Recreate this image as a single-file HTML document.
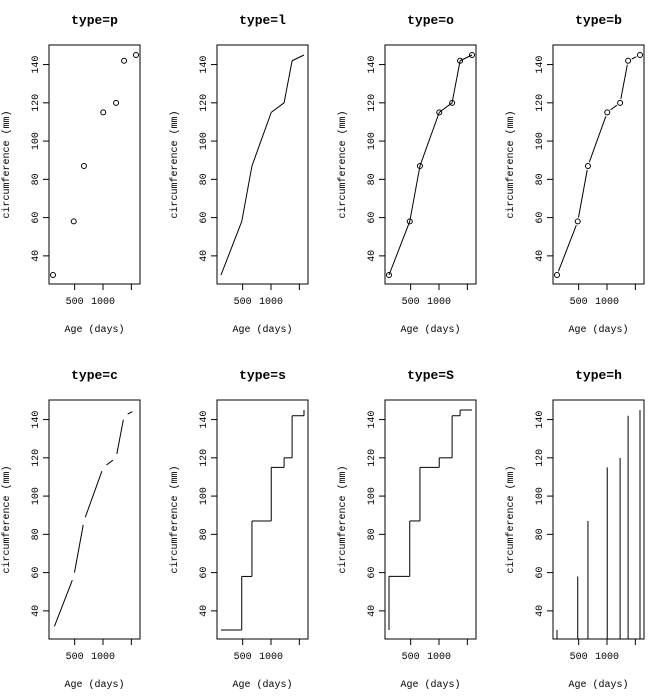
<!DOCTYPE html>
<html><head><meta charset="utf-8"><style>
body{margin:0;background:#fff}
svg text{font-family:"Liberation Mono","DejaVu Sans Mono",monospace;fill:#000}
</style></head><body>
<svg id="c" width="652" height="694" xmlns="http://www.w3.org/2000/svg"></svg>
<script>
const ages=[118,484,664,1004,1231,1372,1582];
const circ=[30,58,87,115,120,142,145];
const types=['p','l','o','b','c','s','S','h'];
const xTicks=[500,1000,1500];
const xTickLabels=['500','1000',''];
const yTicks=[40,60,80,100,120,140];
const svg=document.getElementById('c');
const NS='http://www.w3.org/2000/svg';
function mk(tag,attrs,parent){const e=document.createElementNS(NS,tag);for(const k in attrs)e.setAttribute(k,attrs[k]);(parent||svg).appendChild(e);return e;}
types.forEach((t,i)=>{
  const col=i%4,row=Math.floor(i/4);
  const L=49+col*168,R=L+91,T=45+row*355,B=T+239;
  const g=mk('g',{});
  
  
  const sx=v=>L+4+(v-118)*(R-L-8)/(1582-118);
  const sy=v=>B-9-(v-30)*(B-T-19)/(145-30);
  const title=mk('text',{x:(L+R)/2,y:T-21,'text-anchor':'middle','font-size':13,'font-weight':'bold'},g);
  title.textContent='type='+t;
  
  
  const box=mk('rect',{x:L,y:T,width:R-L,height:B-T,fill:'none',stroke:'#000','stroke-width':1},g);
  
  
  xTicks.forEach((v,k)=>{
    mk('line',{x1:sx(v),x2:sx(v),y1:B,y2:B+6,stroke:'#000'},g);
    if(xTickLabels[k]){const tx=mk('text',{x:sx(v),y:B+20,'text-anchor':'middle','font-size':10},g);tx.textContent=xTickLabels[k];
      
      }
  });
  yTicks.forEach(v=>{
    mk('line',{x1:L,x2:L-6,y1:sy(v),y2:sy(v),stroke:'#000'},g);
    const tx=mk('text',{x:L-11,y:sy(v),'text-anchor':'middle','font-size':10,transform:`rotate(-90 ${L-11} ${sy(v)})`},g);
    tx.textContent=v;
    
    
  });
  const xt=mk('text',{x:(L+R)/2,y:B+48,'text-anchor':'middle','font-size':10},g);
  xt.textContent='Age (days)';
  
  
  const yx=L-40,yy=(T+B)/2;
  const yt=mk('text',{x:yx,y:yy,'text-anchor':'middle','font-size':10,transform:`rotate(-90 ${yx} ${yy})`},g);
  yt.textContent='circumference (mm)';
  
  
  const P=ages.map((a,k)=>[sx(a),sy(circ[k])]);
  const line=(x1,y1,x2,y2)=>mk('line',{x1,y1,x2,y2,stroke:'#000','stroke-width':1},g);
  if(t==='p'||t==='o'||t==='b')P.forEach(p=>{const c=mk('circle',{cx:p[0],cy:p[1],r:2.5,fill:'none',stroke:'#000'},g);
    
    });
  for(let k=0;k<P.length-1;k++){
    const [x1,y1]=P[k],[x2,y2]=P[k+1];
    if(t==='l'||t==='o')line(x1,y1,x2,y2);
    if(t==='b'||t==='c'){const d=Math.hypot(x2-x1,y2-y1),gp=4;if(d>2*gp){const ux=(x2-x1)/d,uy=(y2-y1)/d;line(x1+ux*gp,y1+uy*gp,x2-ux*gp,y2-uy*gp);}}
    if(t==='s'){line(x1,y1,x2,y1);line(x2,y1,x2,y2);}
    if(t==='S'){line(x1,y1,x1,y2);line(x1,y2,x2,y2);}
  }
  if(t==='h')P.forEach(p=>line(p[0],B,p[0],p[1]));
});
</script>
</body></html>
